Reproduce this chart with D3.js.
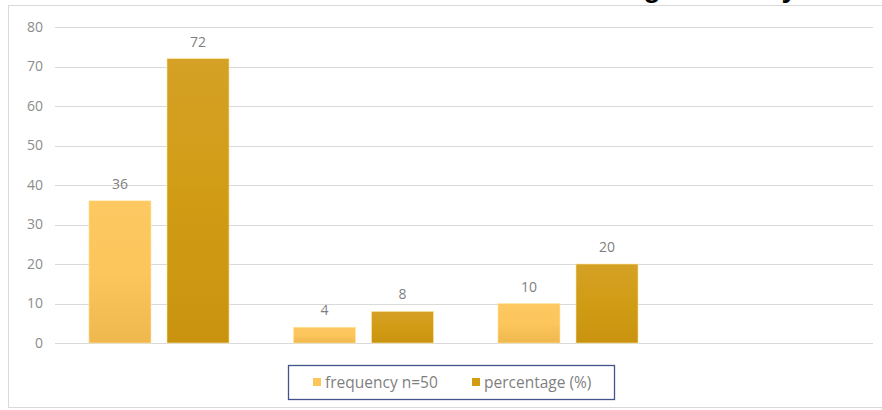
<!DOCTYPE html>
<html>
<head>
<meta charset="utf-8">
<script src="https://cdn.jsdelivr.net/npm/d3@7"></script>
<style>
  html, body { margin: 0; padding: 0; background: #ffffff; }
  svg { display: block; }
</style>
</head>
<body>
<svg id="chart" width="882" height="410"></svg>
<script>
// Category slots (the fourth slot is empty and carries no bars)
const categories = ["c1", "c2", "c3", "c4"];
// Series
const seriesNames = ["frequency n=50", "percentage (%)"];
const frequency = [36, 4, 10, null];
const percentage = [72, 8, 20, null];
// Y axis ticks
const yTicks = [0, 10, 20, 30, 40, 50, 60, 70, 80];

const svg = d3.select("#chart");
const plot = { left: 55, right: 873, top: 27, bottom: 343 };

// Heading of the page above the chart, running off the top edge
svg.append("text")
  .attr("x", 797).attr("y", -3)
  .attr("text-anchor", "end")
  .attr("font-family", "Liberation Sans, Arial, sans-serif")
  .attr("font-weight", "bold")
  .attr("font-size", 28)
  .attr("fill", "#000")
  .text("Smoking Tendency");

// Chart frame
svg.append("rect")
  .attr("x", 8.5).attr("y", 5.5)
  .attr("width", 880).attr("height", 402)
  .attr("fill", "#fff")
  .attr("stroke", "#d9d9d9")
  .attr("stroke-width", 1);

const defs = svg.append("defs");
function grad(id, stops) {
  const g = defs.append("linearGradient").attr("id", id)
    .attr("x1", "0").attr("y1", "0").attr("x2", "0").attr("y2", "1");
  stops.forEach(s => g.append("stop").attr("offset", s[0]).attr("stop-color", s[1]));
}
grad("gFreq", [[0, "#fec862"], [0.5, "#fcc65c"], [1, "#efb84e"]]);
grad("gPct", [[0, "#d5a126"], [0.5, "#d19c14"], [1, "#c99310"]]);
const fills = ["url(#gFreq)", "url(#gPct)"];

const y = d3.scaleLinear().domain([0, 80]).range([plot.bottom, plot.top]);
const x0 = d3.scaleBand().domain(categories).range([plot.left, plot.right]).padding(0);
const x1 = d3.scaleBand().domain(seriesNames)
  .range([x0.bandwidth() * 0.166, x0.bandwidth() * 0.851])
  .paddingInner(0.205).paddingOuter(0);

// Gridlines
svg.append("g").selectAll("line").data(yTicks).join("line")
  .attr("x1", plot.left).attr("x2", plot.right)
  .attr("y1", d => Math.round(y(d)) + 0.5).attr("y2", d => Math.round(y(d)) + 0.5)
  .attr("stroke", "#d9d9d9").attr("stroke-width", 1);

// Y axis labels
const yAxis = d3.axisLeft(y).tickValues(yTicks).tickSize(0).tickPadding(0);
const ya = svg.append("g").attr("transform", "translate(43,0)").call(yAxis);
ya.select(".domain").remove();
ya.selectAll("text")
  .attr("font-family", "Open Sans, sans-serif")
  .attr("font-size", 14)
  .attr("fill", "#8c8c8c");

// Bars with value labels
const seriesValues = [frequency, percentage];
const groups = svg.append("g").selectAll("g").data(categories).join("g")
  .attr("transform", d => `translate(${x0(d)},0)`);

groups.each(function (c, ci) {
  const g = d3.select(this);
  seriesNames.forEach((s, si) => {
    const v = seriesValues[si][ci];
    if (v == null) return;
    g.append("rect")
      .attr("x", x1(s)).attr("width", x1.bandwidth())
      .attr("y", y(v)).attr("height", y(0) - y(v))
      .attr("fill", fills[si])
      .attr("stroke", "#ffe9a6").attr("stroke-width", 0.6);
    g.append("text")
      .attr("x", x1(s) + x1.bandwidth() / 2)
      .attr("y", y(v) - 12)
      .attr("text-anchor", "middle")
      .attr("font-family", "Open Sans, sans-serif")
      .attr("font-size", 14)
      .attr("fill", "#7f7f7f")
      .text(v);
  });
});

// Legend
const lg = svg.append("g");
lg.append("rect")
  .attr("x", 288.5).attr("y", 365.5).attr("width", 326).attr("height", 34)
  .attr("fill", "#fff").attr("stroke", "#44548a").attr("stroke-width", 1.3);
const legendX = [313, 472];
const swatch = ["#fcc65c", "#d19c14"];
seriesNames.forEach((s, i) => {
  lg.append("rect")
    .attr("x", legendX[i]).attr("y", 378)
    .attr("width", 8).attr("height", 8)
    .attr("fill", swatch[i]);
  lg.append("text")
    .attr("x", legendX[i] + 12).attr("y", 388)
    .attr("font-family", "Open Sans, sans-serif")
    .attr("font-size", 15.5)
    .attr("fill", "#7f7f7f")
    .text(s);
});
</script>
</body>
</html>
